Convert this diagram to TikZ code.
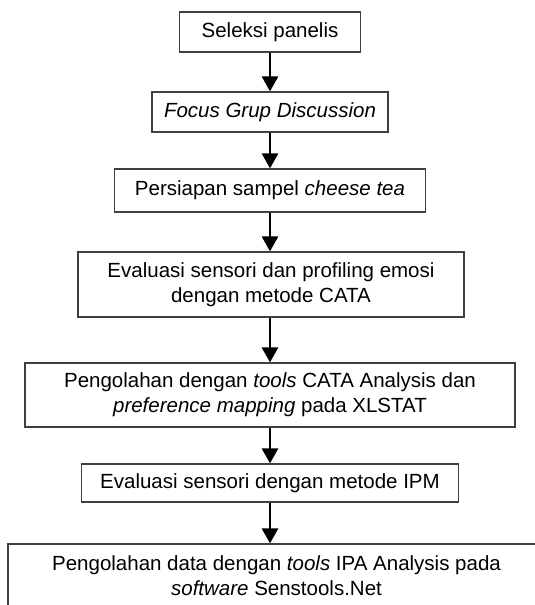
\documentclass[tikz,border=0pt]{standalone}
\usepackage{fontspec}
\setmainfont{Liberation Sans}
\usetikzlibrary{arrows.meta}
\definecolor{boxline}{HTML}{404040}

\begin{document}
\begin{tikzpicture}[x = 1pt, y = 1pt,
        box/.style = {draw = boxline, line width = 1.2pt, rectangle, inner sep = 0pt, align = center, font = \fontsize{20.5pt}{25pt}\selectfont},
        link/.style = {-{Triangle[width = 16pt, length = 15pt]}, line width = 2.8pt, black}]
        \useasboundingbox (0, 0) rectangle (535, 605);

        % Nodes
        \node [box, minimum width = 181pt, minimum height = 40pt] (seleksi) at (270, 573) {Seleksi panelis};
        \node [box, minimum width = 236pt, minimum height = 40pt] (fgd) at (270, 493) {\textit{Focus Grup Discussion}};
        \node [box, minimum width = 311pt, minimum height = 43pt] (sampel) at (270, 414.5) {Persiapan sampel \textit{cheese tea}};
        \node [box, minimum width = 386pt, minimum height = 65pt] (cata) at (271, 320.5) {Evaluasi sensori dan profiling emosi\\dengan metode CATA};
        \node [box, minimum width = 490pt, minimum height = 64pt] (xlstat) at (270, 210) {Pengolahan dengan \textit{tools} CATA Analysis dan\\\textit{preference mapping} pada XLSTAT};
        \node [box, minimum width = 377pt, minimum height = 38pt] (ipm) at (270, 122) {Evaluasi sensori dengan metode IPM};
        \node [box, minimum width = 537pt, minimum height = 64pt] (ipa) at (276.5, 29) {Pengolahan data dengan \textit{tools} IPA Analysis pada\\\textit{software} Senstools.Net};

        % Draw the links
        \draw [link] (seleksi) -- (fgd);
        \draw [link] (fgd) -- (sampel);
        \draw [link] (sampel.south) -- (sampel.south |- cata.north);
        \draw [link] (sampel.south |- cata.south) -- (sampel.south |- xlstat.north);
        \draw [link] (xlstat) -- (ipm);
        \draw [link] (ipm) -- (ipm |- ipa.north);

    \end{tikzpicture}
\end{document}
